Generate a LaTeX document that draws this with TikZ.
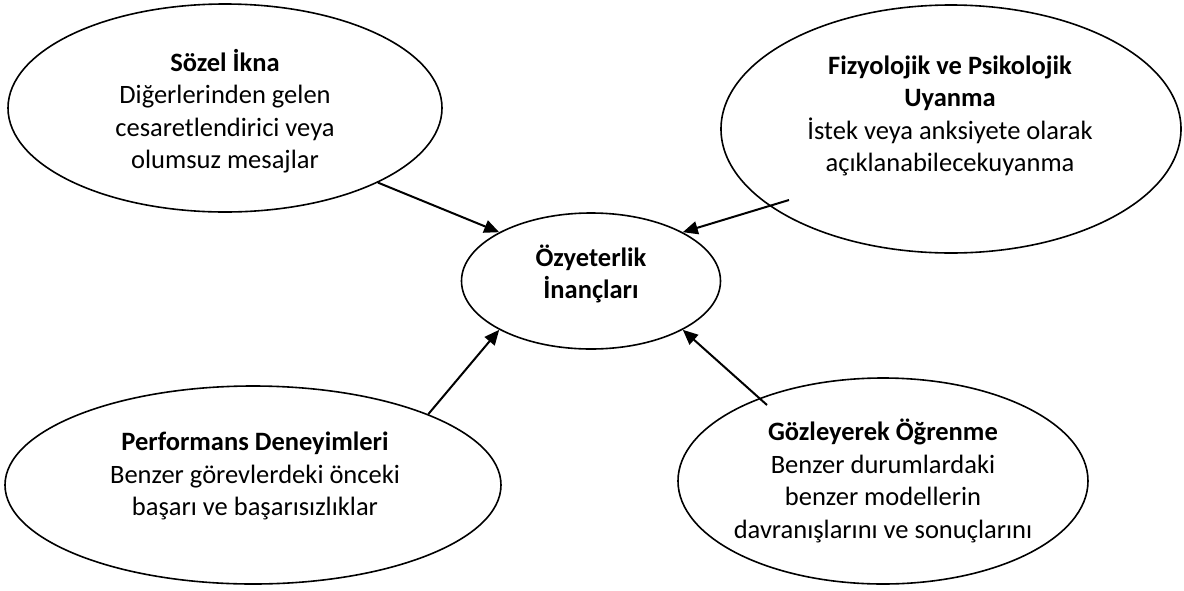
\documentclass[tikz,border=0pt]{standalone}
\usepackage{fontspec}
\setmainfont{Carlito}
\usetikzlibrary{shapes.geometric,arrows.meta}
\tikzset{
  oval/.style={draw=black, line width=1.6pt, ellipse, inner sep=0pt, fill=white},
  txt/.style={align=center, inner sep=0pt, font=\fontsize{26.5}{32.5}\selectfont},
  conn/.style={line width=2pt, -{Triangle[length=15pt,width=13pt]}}
}
\begin{document}
\begin{tikzpicture}[x=1pt,y=-1pt]
\useasboundingbox (0,0) rectangle (1184,590);
% ellipses
\node[oval, minimum width=434pt, minimum height=208pt] (sozel) at (225,108) {};
\node[oval, minimum width=460pt, minimum height=248pt] (fizyo) at (951,129) {};
\node[oval, minimum width=259pt, minimum height=136pt] (oz) at (591,281) {};
\node[oval, minimum width=496pt, minimum height=198pt] (perf) at (253,485) {};
\node[oval, minimum width=410pt, minimum height=206pt] (goz) at (883,481) {};
% texts
\node[txt] (sozelt) at (225,111) {\textbf{Sözel İkna}\\Diğerlerinden gelen\\cesaretlendirici veya\\olumsuz mesajlar};
\node[txt] (fizyot) at (950,116) {\textbf{Fizyolojik ve Psikolojik}\\\textbf{Uyanma}\\İstek veya anksiyete olarak\\açıklanabilecekuyanma};
\node[txt] (ozt) at (591,274) {\textbf{Özyeterlik}\\\textbf{İnançları}};
\node[txt] (perft) at (255,476) {\textbf{Performans Deneyimleri}\\Benzer görevlerdeki önceki\\başarı ve başarısızlıklar};
\node[txt] (gozt) at (883,481) {\textbf{Gözleyerek Öğrenme}\\Benzer durumlardaki\\benzer modellerin\\davranışlarını ve sonuçlarını};
% connector start points
\coordinate (fizyostart) at (789,200);
\coordinate (gozstart) at (767,405);
% connectors
\draw[conn] (sozel.-26) -- (oz.152);
\draw[conn] (fizyostart) -- (oz.28);
\draw[conn] (perf.22) -- (oz.208);
\draw[conn] (gozstart) -- (oz.-28);
\end{tikzpicture}
\end{document}
